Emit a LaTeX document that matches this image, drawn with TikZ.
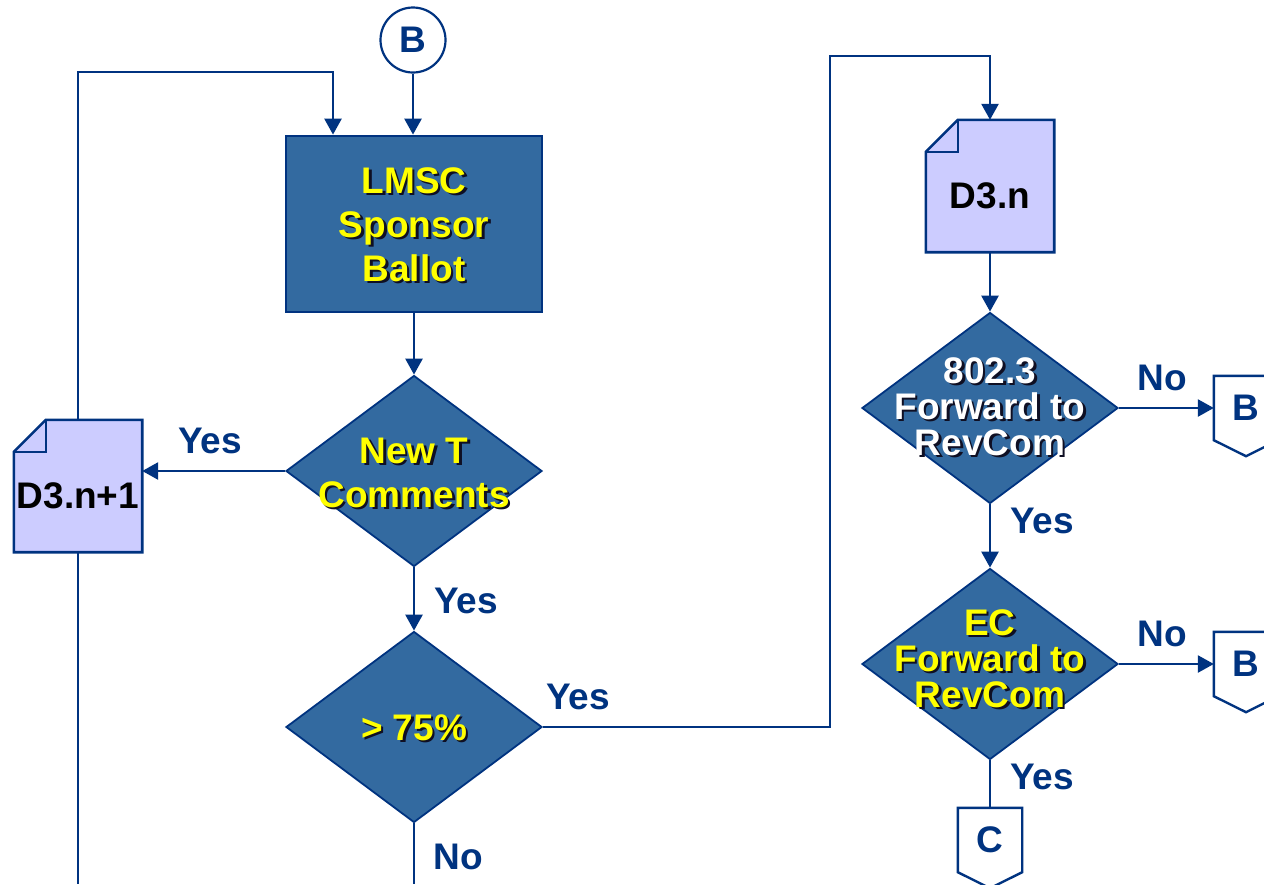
\documentclass[tikz,border=0pt]{standalone}
\usepackage{fontspec}
\setmainfont{Liberation Sans}
\usetikzlibrary{shapes.geometric,arrows.meta,backgrounds,calc}
\definecolor{navy}{RGB}{0,51,128}
\definecolor{boxblue}{RGB}{51,106,160}
\definecolor{docfill}{RGB}{204,204,255}
\definecolor{ytext}{RGB}{255,255,0}
\definecolor{shadowc}{RGB}{15,15,35}
\newcommand\sh[1]{\leavevmode\rlap{\kern2.5pt\raisebox{-2.5pt}{\textcolor{shadowc}{#1}}}#1}
\tikzset{
  flow/.style={draw=navy, line width=2.6pt},
  arr/.style={flow, -{Triangle[length=16pt,width=17pt]}},
  procbox/.style={rectangle, draw=navy, line width=2.8pt, fill=boxblue, minimum width=256pt, minimum height=176pt, inner sep=0pt, text=ytext, align=center},
  decision/.style={diamond, draw=navy, line width=1.8pt, fill=boxblue, minimum width=256pt, minimum height=191pt, inner sep=0pt},
  dectext/.style={text=ytext, align=center, inner sep=0pt},
  docnode/.style={rectangle, minimum width=128pt, minimum height=132pt, inner sep=0pt},
  doctext/.style={text=black, inner sep=0pt, yshift=-10pt},
  docshape/.style={draw=navy, line width=2.6pt, fill=docfill, line join=miter},
  offnode/.style={rectangle, minimum width=64pt, minimum height=64pt, inner sep=0pt, text=navy},
  offshape/.style={draw=navy, line width=2.4pt, fill=white},
  circconn/.style={circle, draw=navy, line width=2.2pt, fill=white, minimum size=65pt, inner sep=0pt, text=navy},
  lbl/.style={text=navy, inner sep=0pt},
}
\begin{document}
\begin{tikzpicture}[x=1pt,y=-1pt,font=\fontsize{37}{44}\selectfont\bfseries]
\useasboundingbox (0,0) rectangle (1264,884);
\clip (0,0) rectangle (1264,884);

% nodes
\node[circconn] (B0) at (413,40) {B};
\node[procbox, label={[dectext, yshift=-2pt]center:{\sh{LMSC}\\\sh{Sponsor}\\\sh{Ballot}}}] (lmsc) at (414,224) {};
\node[decision, label={[dectext, yshift=-3pt]center:{\sh{New T}\\\sh{Comments}}}] (d1) at (414,471) {};
\node[decision, label={[dectext, yshift=-2pt]center:{\sh{> 75\%}}}] (d2) at (414,727) {};
\node[docnode, label={[doctext]center:{D3.n+1}}] (dn1) at (78,486) {};
\node[docnode, label={[doctext]center:{D3.n}}] (dn) at (990,186) {};
\node[decision, label={[dectext, text=white, font=\fontsize{37}{36}\selectfont\bfseries]center:{\sh{802.3}\\\sh{Forward to}\\\sh{RevCom}}}] (d3) at (990,408) {};
\node[decision, label={[dectext, yshift=4pt, font=\fontsize{37}{36}\selectfont\bfseries]center:{\sh{EC}\\\sh{Forward to}\\\sh{RevCom}}}] (d4) at (990,664) {};
\node[offnode] (b1) at (1246,408) {B};
\node[offnode] (b2) at (1246,664) {B};
\node[offnode] (c1) at (990,840) {C};

% labels
\node[lbl] (yes1) at (210,441) {Yes};
\node[lbl] (yes2) at (466,601) {Yes};
\node[lbl] (yes3) at (578,697) {Yes};
\node[lbl] (no1) at (458,857) {No};
\node[lbl] (no2) at (1162,378) {No};
\node[lbl] (yes4) at (1042,521) {Yes};
\node[lbl] (no3) at (1162,634) {No};
\node[lbl] (yes5) at (1042,777) {Yes};

% background shapes
\begin{scope}[on background layer]
  \fill[white] (0,0) rectangle (1264,884);
  \foreach \d in {dn1,dn}{
    \draw[docshape] ([yshift=-32pt]\d.north west) -- ([xshift=32pt]\d.north west) -- (\d.north east) -- (\d.south east) -- (\d.south west) -- cycle;
    \draw[docshape, fill=none] ([yshift=-32pt]\d.north west) -- ([xshift=32pt,yshift=-32pt]\d.north west) -- ([xshift=32pt]\d.north west);
  }
  \foreach \c in {b1,b2,c1}{
    \draw[offshape] (\c.north west) -- (\c.north east) -- (\c.south east) -- ([yshift=-16pt]\c.south) -- (\c.south west) -- cycle;
  }
\end{scope}

% connectors
\coordinate (loopc) at (333,72);
\coordinate (rt) at (830,56);
\coordinate (bot) at (414,884);
\draw[arr] (B0.south) -- (B0.south |- lmsc.north);
\draw[arr] (dn1.north) |- (loopc) -- (loopc |- lmsc.north);
\draw[arr] (lmsc.south) -- (d1.north);
\draw[arr] (d1.west) -- (dn1.east |- d1.west);
\draw[arr] (d1.south) -- (d2.north);
\draw[flow] (d2.south) -- (bot);
\draw[flow] (dn1.south) -- (dn1.south |- bot);
\draw[arr] (d2.east) -| (rt) -| (dn.north);
\draw[arr] (dn.south) -- (d3.north);
\draw[arr] (d3.east) -- (b1.west);
\draw[arr] (d3.south) -- (d4.north);
\draw[arr] (d4.east) -- (b2.west);
\draw[flow] (d4.south) -- (c1.north);
\end{tikzpicture}
\end{document}
